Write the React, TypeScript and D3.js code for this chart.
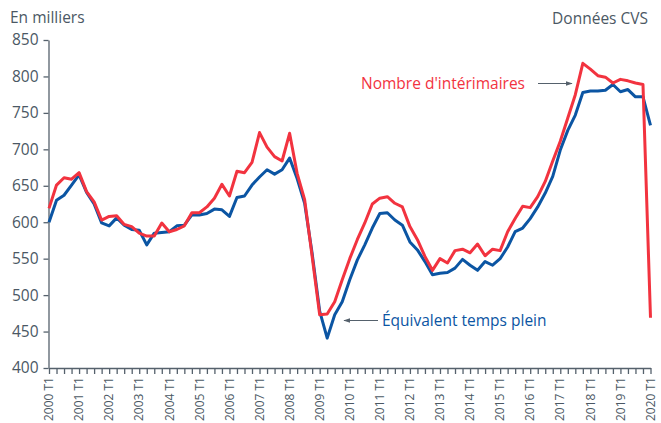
import { useEffect, useRef } from 'react';
import * as d3 from 'd3';

// trimestres 2000 T1 .. 2020 T1
const years = d3.range(2000, 2021);
const quarters: string[] = years.flatMap(y => (y === 2020 ? [`${y} T1`] : [1, 2, 3, 4].map(q => `${y} T${q}`)));

const interimaires = [
  619, 651, 661, 659, 668, 642, 628, 603, 608, 609, 597, 594, 585, 581, 581, 599, 587, 590, 595, 613,
  613, 621, 633, 652, 636, 670, 668, 682, 723, 703, 690, 684, 722, 667, 631, 553, 473, 474, 491, 521,
  550, 576, 599, 625, 633, 635, 626, 621, 594, 576, 553, 534, 550, 544, 561, 563, 558, 570, 554, 563,
  561, 587, 605, 622, 620, 635, 656, 684, 711, 743, 775, 818, 810, 801, 799, 791, 796, 794, 791, 789,
  469,
];

const equivalentTempsPlein = [
  600, 630, 637, 651, 665, 641, 625, 599, 595, 606, 596, 590, 589, 569, 585, 586, 587, 595, 596, 610,
  610, 612, 618, 617, 608, 634, 636, 651, 662, 672, 666, 672, 688, 660, 626, 557, 478, 441, 473, 491,
  521, 548, 569, 592, 612, 613, 603, 596, 573, 562, 546, 528, 530, 531, 537, 549, 541, 534, 546, 541,
  550, 566, 587, 592, 605, 621, 640, 663, 699, 726, 747, 778, 780, 780, 781, 789, 779, 782, 772, 772,
  733,
];

const yTicks = [400, 450, 500, 550, 600, 650, 700, 750, 800, 850];

const RED = '#f2333f';
const BLUE = '#0b55a3';
const GREY = '#55616c';
const FONT = '"Open Sans", sans-serif';

export default function App() {
  const ref = useRef<SVGSVGElement | null>(null);

  useEffect(() => {
    if (!ref.current) return;
    const width = 661;
    const height = 423;

    const svg = d3.select(ref.current);
    svg.selectAll('*').remove();
    svg.attr('width', width).attr('height', height);

    const x = d3.scaleLinear().domain([0, quarters.length - 1]).range([49, 650.5]);
    const y = d3.scaleLinear().domain([400, 850]).range([368, 40]);

    const defs = svg.append('defs');
    defs
      .append('marker')
      .attr('id', 'arrow')
      .attr('viewBox', '0 0 10 10')
      .attr('refX', 9)
      .attr('refY', 5)
      .attr('markerWidth', 7)
      .attr('markerHeight', 7)
      .attr('orient', 'auto-start-reverse')
      .append('path')
      .attr('d', 'M0,1.5 L10,5 L0,8.5 Z')
      .attr('fill', GREY);

    // axe des ordonnées
    const yAxis = svg
      .append('g')
      .attr('transform', `translate(${x(0) - 0.5},0)`)
      .call(d3.axisLeft(y).tickValues(yTicks).tickSize(5).tickSizeOuter(0).tickPadding(5));
    yAxis.select('.domain').attr('stroke', GREY).attr('stroke-width', 1.3);
    yAxis.selectAll('.tick line').attr('stroke', GREY).attr('stroke-width', 1.3);
    yAxis
      .selectAll('.tick text')
      .attr('fill', '#4b5864')
      .attr('font-family', FONT)
      .attr('font-size', 15.5);

    // axe des abscisses
    const xAxis = svg
      .append('g')
      .attr('transform', `translate(0,${y(400)})`)
      .call(
        d3
          .axisBottom(x)
          .tickValues(d3.range(quarters.length))
          .tickSize(6)
          .tickSizeOuter(0)
          .tickFormat(() => ''),
      );
    xAxis.select('.domain').attr('stroke', GREY).attr('stroke-width', 1.3);
    xAxis.selectAll('.tick line').attr('stroke', GREY).attr('stroke-width', 1.3);

    svg
      .append('g')
      .selectAll('text')
      .data(quarters.map((q, i) => ({ q, i })).filter(d => d.i % 4 === 0))
      .join('text')
      .attr('transform', d => `translate(${x(d.i)},${y(400) + 9}) rotate(-90)`)
      .attr('text-anchor', 'end')
      .attr('dy', '0.35em')
      .attr('fill', '#4b5864')
      .attr('font-family', FONT)
      .attr('font-size', 12)
      .text(d => d.q);

    const line = d3
      .line<number>()
      .x((_, i) => x(i))
      .y(d => y(d))
      .curve(d3.curveLinear);

    svg
      .append('path')
      .datum(equivalentTempsPlein)
      .attr('fill', 'none')
      .attr('stroke', BLUE)
      .attr('stroke-width', 3)
      .attr('stroke-linejoin', 'round')
      .attr('d', line);

    svg
      .append('path')
      .datum(interimaires)
      .attr('fill', 'none')
      .attr('stroke', RED)
      .attr('stroke-width', 3)
      .attr('stroke-linejoin', 'round')
      .attr('d', line);

    // titres
    svg
      .append('text')
      .attr('x', 10)
      .attr('y', 23)
      .attr('fill', '#4b5864')
      .attr('font-family', FONT)
      .attr('font-size', 15.5)
      .text('En milliers');

    svg
      .append('text')
      .attr('x', 648)
      .attr('y', 24)
      .attr('text-anchor', 'end')
      .attr('fill', '#4b5864')
      .attr('font-family', FONT)
      .attr('font-size', 15.5)
      .text('Données CVS');

    // annotations
    svg
      .append('text')
      .attr('x', 361)
      .attr('y', 89)
      .attr('fill', RED)
      .attr('font-family', FONT)
      .attr('font-size', 15.5)
      .text("Nombre d'intérimaires");
    svg
      .append('line')
      .attr('x1', 538)
      .attr('y1', 83.5)
      .attr('x2', 572)
      .attr('y2', 83.5)
      .attr('stroke', GREY)
      .attr('stroke-width', 1)
      .attr('marker-end', 'url(#arrow)');

    svg
      .append('text')
      .attr('x', 382)
      .attr('y', 326)
      .attr('fill', BLUE)
      .attr('font-family', FONT)
      .attr('font-size', 15.5)
      .text('Équivalent temps plein');
    svg
      .append('line')
      .attr('x1', 378)
      .attr('y1', 320.5)
      .attr('x2', 344)
      .attr('y2', 320.5)
      .attr('stroke', GREY)
      .attr('stroke-width', 1)
      .attr('marker-end', 'url(#arrow)');
  }, []);

  return <svg ref={ref} style={{ position: 'absolute', left: 0, top: 0, background: '#fff' }} />;
}
